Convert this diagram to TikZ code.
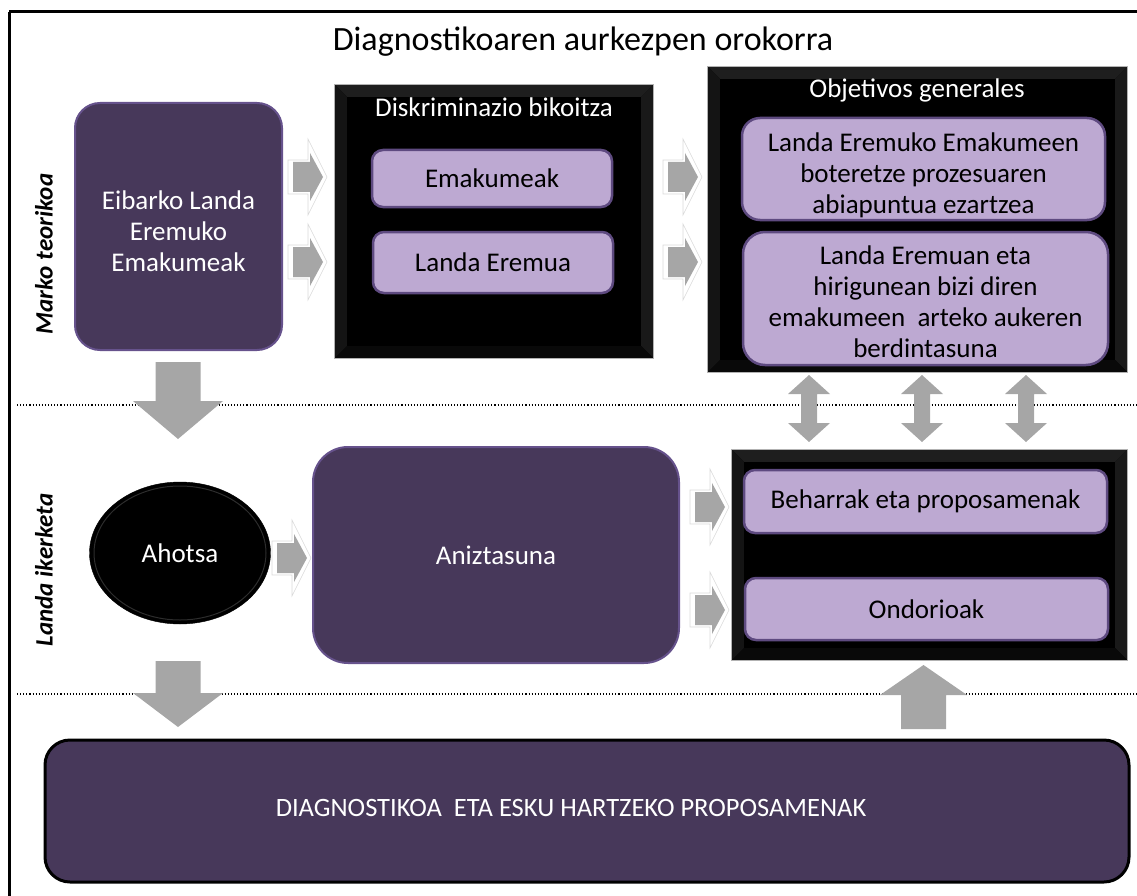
\documentclass[tikz,border=0pt]{standalone}
\usepackage{fontspec}
\setmainfont{Carlito}
\usetikzlibrary{shapes.geometric}
\definecolor{dpurple}{HTML}{47385A}
\definecolor{bpurple}{HTML}{66528C}
\definecolor{lav}{HTML}{BDA9D2}
\definecolor{lborder}{HTML}{5E4A80}
\definecolor{agray}{HTML}{A6A6A6}
\definecolor{bevt}{HTML}{1E1E1E}
\definecolor{bevl}{HTML}{141414}
\definecolor{bevr}{HTML}{191919}
\definecolor{bevb}{HTML}{090909}
\newcommand\bevelbox[1]{%
  \fill[bevt] (#1.north west) -- (#1.north east) -- ([shift={(-12pt,-12pt)}]#1.north east) -- ([shift={(12pt,-12pt)}]#1.north west) -- cycle;
  \fill[bevl] (#1.north west) -- (#1.south west) -- ([shift={(12pt,12pt)}]#1.south west) -- ([shift={(12pt,-12pt)}]#1.north west) -- cycle;
  \fill[bevr] (#1.north east) -- (#1.south east) -- ([shift={(-12pt,12pt)}]#1.south east) -- ([shift={(-12pt,-12pt)}]#1.north east) -- cycle;
  \fill[bevb] (#1.south west) -- (#1.south east) -- ([shift={(-12pt,12pt)}]#1.south east) -- ([shift={(12pt,12pt)}]#1.south west) -- cycle;
  \draw[gray!60, line width=0.8pt] (#1.north west) rectangle (#1.south east);}
\newcommand\rarr[2]{%
  \begin{scope}[shift={(#1,#2)}]
    \draw[draw=gray!30, fill=white, line width=0.6pt] (-5,-17) -- (15,-17) -- (15,-38) -- (34,0) -- (15,38) -- (15,17) -- (-5,17) -- cycle;
    \fill[agray] (0,-15) -- (17,-15) -- (17,-24) -- (30,0) -- (17,24) -- (17,15) -- (0,15) -- cycle;
  \end{scope}}
\newcommand\varr[1]{%
  \fill[agray] (#1,375) -- ({#1+21},394) -- ({#1+8},394) -- ({#1+8},423) -- ({#1+21},423) -- (#1,442) -- ({#1-21},423) -- ({#1-8},423) -- ({#1-8},394) -- ({#1-21},394) -- cycle;}
\begin{document}
\begin{tikzpicture}[x=1pt,y=-1pt,
  txt/.style={font=\fontsize{27}{31}\selectfont, align=center},
  darkbox/.style={txt, text=white, fill=dpurple, draw=bpurple, line width=2pt, inner sep=0pt},
  litebox/.style={txt, text=black, fill=lav, draw=lborder, line width=2.5pt, rounded corners=11pt, inner sep=0pt},
  blackbox/.style={fill=black, draw=none, inner sep=0pt},
  boxtitle/.style={txt, text=white},
  sidelabel/.style={font=\fontsize{25}{30}\selectfont\bfseries\itshape, rotate=90},
  sep/.style={dotted, line width=1.1pt}]
\useasboundingbox (0,0) rectangle (1137,896);
% frame
\draw[line width=3pt] (9,12) -- (1140,12);
\draw[line width=3pt] (9,12) -- (9,900);
% title
\node[font=\fontsize{34}{38}\selectfont] (title) at (583,42) {Diagnostikoaren aurkezpen orokorra};
% separators
\draw[sep] (17,405) -- (1137,405);
\draw[sep] (17,694) -- (1137,694);
% side labels
\node[sidelabel] (lab1) at (44,254) {Marko teorikoa};
\node[sidelabel] (lab2) at (44,570) {Landa ikerketa};
% left box
\node[darkbox, rounded corners=25pt, minimum width=207pt, minimum height=247pt] (eib) at (178.5,226.5) {\rule{0pt}{28pt}Eibarko Landa\\Eremuko\\Emakumeak};
% black box 1
\node[blackbox, minimum width=318pt, minimum height=273pt] (disk) at (494,221.5) {};
\bevelbox{disk}
\node[boxtitle] (disktitle) at (494,107) {Diskriminazio bikoitza};
\node[litebox, minimum width=240pt, minimum height=57pt] (ema) at (492,178.5) {Emakumeak};
\node[litebox, minimum width=240pt, minimum height=61pt] (landa) at (493,262.5) {Landa Eremua};
% black box 2
\node[blackbox, minimum width=419pt, minimum height=305pt] (obj) at (917.5,219.5) {};
\bevelbox{obj}
\node[boxtitle] (objtitle) at (917,90) {Objetivos generales};
\node[litebox, rounded corners=18pt, minimum width=363pt, minimum height=102pt] (obj1) at (923.5,169) {\rule{0pt}{31pt}Landa Eremuko Emakumeen\\boteretze prozesuaren\\abiapuntua ezartzea};
\node[litebox, rounded corners=22pt, minimum width=365pt, minimum height=133pt] (obj2) at (925.5,298.5) {\rule{0pt}{25pt}Landa Eremuan eta\\hirigunean bizi diren\\emakumeen\ \ arteko aukeren\\berdintasuna};
% black box 3
\node[blackbox, minimum width=395pt, minimum height=210pt] (res) at (929.5,555) {};
\bevelbox{res}
\node[litebox, minimum width=363pt, minimum height=63pt] (beh) at (925.5,501.5) {Beharrak eta proposamenak};
\node[litebox, minimum width=363pt, minimum height=62pt] (ond) at (926.5,609) {Ondorioak};
% ellipse
\node[ellipse, fill=black, draw=black, minimum width=181pt, minimum height=142pt, inner sep=0pt, txt, text=white] (aho) at (180,553) {Ahotsa};
\draw[gray!35!black, line width=1pt] (aho.center) ellipse [x radius=86pt, y radius=67pt];
% Aniztasuna
\node[darkbox, rounded corners=35pt, minimum width=366pt, minimum height=216pt] (ani) at (496,555) {Aniztasuna};
% bottom box
\node[fill=dpurple, draw=black, line width=3pt, rounded corners=25pt, minimum width=1084pt, minimum height=142pt, inner sep=0pt] (diag) at (587,811) {};
\node[text=white, font=\fontsize{26.5}{30}\selectfont] (diagtext) at (571,808) {DIAGNOSTIKOA\ \ ETA ESKU HARTZEKO PROPOSAMENAK};
% small right arrows
\rarr{293}{177}
\rarr{293}{262}
\rarr{668}{177}
\rarr{668}{262}
\rarr{277}{558}
\rarr{695}{507}
\rarr{695}{610}
% double arrows
\varr{809}
\varr{922}
\varr{1026}
% big arrows
\fill[agray] (155.5,362) -- (200.5,362) -- (200.5,401) -- (223,401) -- (178,439) -- (133,401) -- (155.5,401) -- cycle;
\fill[agray] (155.5,661) -- (200.5,661) -- (200.5,693) -- (223,693) -- (178,727) -- (133,693) -- (155.5,693) -- cycle;
\fill[agray] (901,729) -- (946,729) -- (946,695) -- (967,695) -- (923.5,665) -- (880,695) -- (901,695) -- cycle;
\end{tikzpicture}
\end{document}
